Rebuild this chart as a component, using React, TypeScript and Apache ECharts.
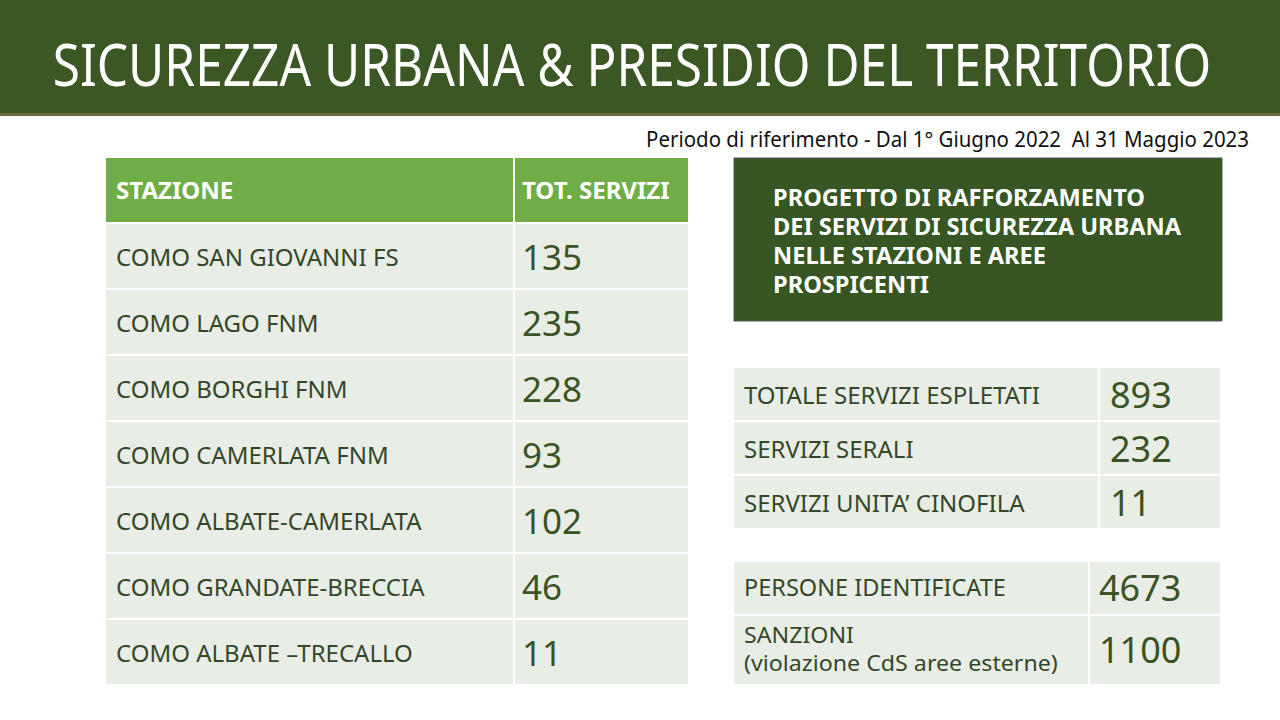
import React, { useEffect, useRef } from "react";
import * as echarts from "echarts";

const title = "SICUREZZA URBANA & PRESIDIO DEL TERRITORIO";
const period = "Periodo di riferimento - Dal 1° Giugno 2022  Al 31 Maggio 2023";
const tableHeaders = ["STAZIONE", "TOT. SERVIZI"];
const stations = [
  "COMO SAN GIOVANNI FS",
  "COMO LAGO FNM",
  "COMO BORGHI FNM",
  "COMO CAMERLATA FNM",
  "COMO ALBATE-CAMERLATA",
  "COMO GRANDATE-BRECCIA",
  "COMO ALBATE \u2013TRECALLO",
];
const stationServices = [135, 235, 228, 93, 102, 46, 11];
const projectLines = [
  "PROGETTO DI RAFFORZAMENTO",
  "DEI SERVIZI DI SICUREZZA URBANA",
  "NELLE STAZIONI E AREE",
  "PROSPICENTI",
];
const serviceLabels = ["TOTALE SERVIZI ESPLETATI", "SERVIZI SERALI", "SERVIZI UNITA\u2019 CINOFILA"];
const serviceValues = [893, 232, 11];
const controlLabels = [["PERSONE IDENTIFICATE"], ["SANZIONI", "(violazione CdS aree esterne)"]];
const controlValues = [4673, 1100];

const HEADER_GREEN = "#70ad47";
const ROW_BG = "#e8eee5";
const TEXT_DARK = "#34472a";
const NUM_DARK = "#3a5325";
const FONT = "'Noto Sans', 'Open Sans', sans-serif";

function buildGraphics() {
  const els: any[] = [];
  // header band
  els.push({ type: "rect", shape: { x: 0, y: 0, width: 1280, height: 114 }, style: { fill: "#3b5723" } });
  els.push({ type: "rect", shape: { x: 0, y: 113, width: 1280, height: 3 }, style: { fill: "#6b6a3a" } });
  els.push({
    type: "text",
    x: 632, y: 63, scaleX: 0.855,
    style: {
      x: 0, y: 0, text: title, fill: "#ffffff", align: "center", verticalAlign: "middle",
      font: `58px ${FONT}`,
    },
  });
  els.push({
    type: "text",
    x: 1249, y: 138, scaleX: 0.93,
    style: {
      x: 0, y: 0, text: period, fill: "#111111", align: "right", verticalAlign: "middle",
      font: `22px ${FONT}`,
    },
  });

  // left table
  const lx = 106, lw = 582, divX = 513;
  els.push({ type: "rect", shape: { x: lx, y: 158, width: lw, height: 64 }, style: { fill: HEADER_GREEN } });
  els.push({ type: "rect", shape: { x: divX, y: 158, width: 2, height: 64 }, style: { fill: "#ffffff" } });
  els.push({ type: "text", style: { x: 116, y: 189, text: tableHeaders[0], fill: "#fff", verticalAlign: "middle", font: `bold 24px ${FONT}` } });
  els.push({ type: "text", style: { x: 522, y: 189, text: tableHeaders[1], fill: "#fff", verticalAlign: "middle", font: `bold 24px ${FONT}` } });
  const rowH = 66, top = 224;
  stations.forEach((s, i) => {
    const y = top + i * rowH;
    els.push({ type: "rect", shape: { x: lx, y, width: lw, height: rowH - 2 }, style: { fill: ROW_BG } });
    els.push({ type: "rect", shape: { x: divX, y, width: 2, height: rowH - 2 }, style: { fill: "#ffffff" } });
    els.push({ type: "text", style: { x: 116, y: y + 32, text: s, fill: TEXT_DARK, verticalAlign: "middle", font: `24px ${FONT}` } });
    els.push({ type: "text", style: { x: 522, y: y + 32, text: String(stationServices[i]), fill: NUM_DARK, verticalAlign: "middle", font: `35px ${FONT}` } });
  });

  // project box
  els.push({ type: "rect", shape: { x: 734, y: 158, width: 488, height: 163 }, style: { fill: "#375623", stroke: "#4a5a4a", lineWidth: 1 } });
  projectLines.forEach((t, i) => {
    els.push({ type: "text", style: { x: 773, y: 197 + i * 29, text: t, fill: "#fff", verticalAlign: "middle", font: `bold 23.6px ${FONT}` } });
  });

  // services table
  const rx = 734, rw = 486;
  serviceLabels.forEach((t, i) => {
    const y = 368 + i * 54;
    els.push({ type: "rect", shape: { x: rx, y, width: rw, height: 52 }, style: { fill: ROW_BG } });
    els.push({ type: "rect", shape: { x: 1098, y, width: 2, height: 52 }, style: { fill: "#ffffff" } });
    els.push({ type: "text", style: { x: 744, y: y + 26, text: t, fill: TEXT_DARK, verticalAlign: "middle", font: `24px ${FONT}` } });
    els.push({ type: "text", style: { x: 1110, y: y + 26, text: String(serviceValues[i]), fill: NUM_DARK, verticalAlign: "middle", font: `36px ${FONT}` } });
  });

  // controls table
  const ctrlRows = [{ y: 562, h: 52 }, { y: 616, h: 68 }];
  controlLabels.forEach((lines, i) => {
    const r = ctrlRows[i];
    els.push({ type: "rect", shape: { x: rx, y: r.y, width: rw, height: r.h }, style: { fill: ROW_BG } });
    els.push({ type: "rect", shape: { x: 1088, y: r.y, width: 2, height: r.h }, style: { fill: "#ffffff" } });
    const mid = r.y + r.h / 2 - 1;
    if (lines.length === 1) {
      els.push({ type: "text", style: { x: 744, y: mid, text: lines[0], fill: TEXT_DARK, verticalAlign: "middle", font: `23.5px ${FONT}` } });
    } else {
      lines.forEach((t, j) => {
        const ly = mid + (j - (lines.length - 1) / 2) * 28;
        els.push({
          type: "text", x: 744, y: ly, scaleX: 1.08,
          style: { x: 0, y: 0, text: t, fill: TEXT_DARK, verticalAlign: "middle", font: `21.5px ${FONT}` },
        });
      });
    }
    els.push({ type: "text", style: { x: 1099, y: mid, text: String(controlValues[i]), fill: NUM_DARK, verticalAlign: "middle", font: `36px ${FONT}` } });
  });
  return els;
}

export default function App() {
  const ref = useRef<HTMLDivElement>(null);
  useEffect(() => {
    if (!ref.current) return;
    const chart = echarts.init(ref.current, null, { renderer: "svg" });
    chart.setOption({ animation: false, backgroundColor: "#ffffff", graphic: { elements: buildGraphics() } });
    return () => chart.dispose();
  }, []);
  return <div ref={ref} style={{ position: "absolute", left: 0, top: 0, width: 1280, height: 720 }} />;
}
